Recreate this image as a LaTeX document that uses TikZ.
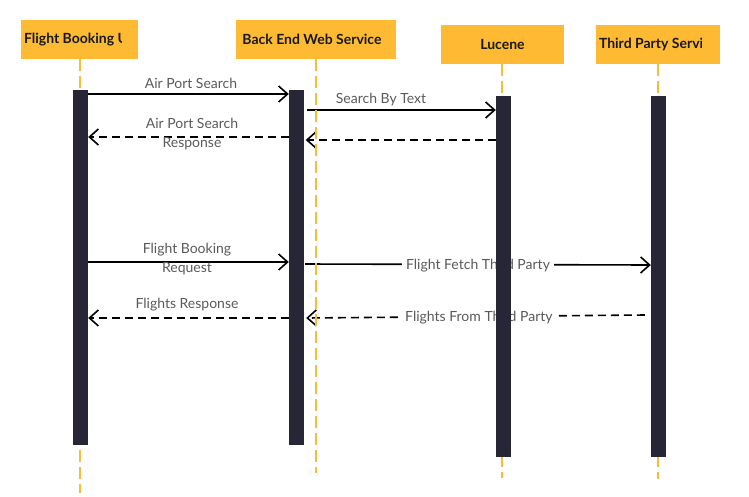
\documentclass[tikz,border=0pt]{standalone}
\usepackage{fontspec}
\setmainfont{Lato}
\usetikzlibrary{arrows.meta}
\definecolor{boxorange}{RGB}{254,186,51}
\definecolor{bardark}{RGB}{38,38,54}
\definecolor{msggray}{RGB}{90,90,90}
\tikzset{
    actor/.style={fill=boxorange, minimum height=39pt, inner sep=0pt,
        font=\fontsize{14}{16}\selectfont\bfseries, text=black!90},
    actortext/.style={inner sep=0pt, font=\fontsize{14}{16}\selectfont\bfseries, text=black!90},
    barslot/.style={minimum width=15pt, inner sep=0pt},
    lifeline/.style={boxorange, line width=2pt, dash pattern=on 11.5pt off 5.5pt},
    call/.style={line width=1.6pt, -{Straight Barb[length=9pt,width=16pt,line width=1.6pt]}},
    reply/.style={call, dash pattern=on 8pt off 5pt},
    msg/.style={text=msggray, font=\fontsize{14}{19}\selectfont, inner sep=1pt, align=center},
    gaplabel/.style={msg, fill=white, inner xsep=4pt, inner ysep=1pt},
}

\begin{document}
\begin{tikzpicture}[x=1pt, y=-1pt]
\useasboundingbox (0,0) rectangle (749,496);

\node[actor, minimum width=117pt] (fbu) at (79.5,39.5) {};
\begin{scope}
\clip (fbu.south west) rectangle ([xshift=-17pt]fbu.north east);
\node[actortext, anchor=west] at ([xshift=3pt]fbu.west) {Flight Booking User};
\end{scope}
\node[actor, minimum width=160pt] (bews) at (316,39.5) {};
\node[actortext] at ([xshift=-4pt]bews.center) {Back End Web Service};
\node[actor, minimum width=123pt] (luc) at (502.5,44.5) {Lucene};
\node[actor, minimum width=124pt] (tps) at (658,44.5) {};
\begin{scope}
\clip (tps.south west) rectangle ([xshift=-19pt]tps.north east);
\node[actortext, anchor=west] at ([xshift=3pt]tps.west) {Third Party Service};
\end{scope}

\node[barslot, minimum height=355pt] (b1) at (80.5,267.5) {};
\node[barslot, minimum height=355pt] (b2) at (296.5,267.5) {};
\node[barslot, minimum height=361pt] (b3) at (503.5,276.5) {};
\node[barslot, minimum height=361pt] (b4) at (658.5,276.5) {};

\draw[call] (b1.east |- 0,94) -- (b2.west |- 0,94);
\node[msg] (l1) at (191,83.5) {Air Port Search};
\draw[call] ([xshift=3pt]b2.east |- 0,110) -- (b3.west |- 0,110);
\node[msg] (l2) at (381,99.5) {Search By Text};
\draw[reply] (b3.west |- 0,140) -- ([xshift=1.5pt]b2.east |- 0,140);
\draw[reply] (b2.west |- 0,137) -- (b1.east |- 0,137);
\node[msg] (l4) at (192,134) {Air Port Search\\Response};

\draw[call] (b1.east |- 0,262) -- (b2.west |- 0,262);
\node[msg] (l5) at (187,259) {Flight Booking\\Request};
\draw[call] ([xshift=1pt]b2.east |- 0,264) -- node[gaplabel, yshift=-1pt] (l6) {Flight Fetch Third Party} (b4.west |- 0,265);
\draw[reply] (b2.west |- 0,318) -- (b1.east |- 0,318);
\node[msg] (l7) at (187,304.5) {Flights Response};
\draw[reply] ([xshift=-6pt]b4.west |- 0,315) -- node[gaplabel, pos=0.49, yshift=-1pt] (l8) {Flights From Third Party} ([xshift=2pt]b2.east |- 0,318);

\draw[lifeline] (fbu.south) -- (fbu.south |- 0,493);
\draw[lifeline] (bews.south) -- (bews.south |- 0,473);
\draw[lifeline] ([xshift=-0.5pt]luc.south) -- ([xshift=-0.5pt]luc.south |- 0,478);
\draw[lifeline] (tps.south) -- (tps.south |- 0,479);

\fill[bardark] (b1.south west) rectangle (b1.north east);
\fill[bardark] (b2.south west) rectangle (b2.north east);
\fill[bardark] (b3.south west) rectangle (b3.north east);
\fill[bardark] (b4.south west) rectangle (b4.north east);
\end{tikzpicture}
\end{document}
